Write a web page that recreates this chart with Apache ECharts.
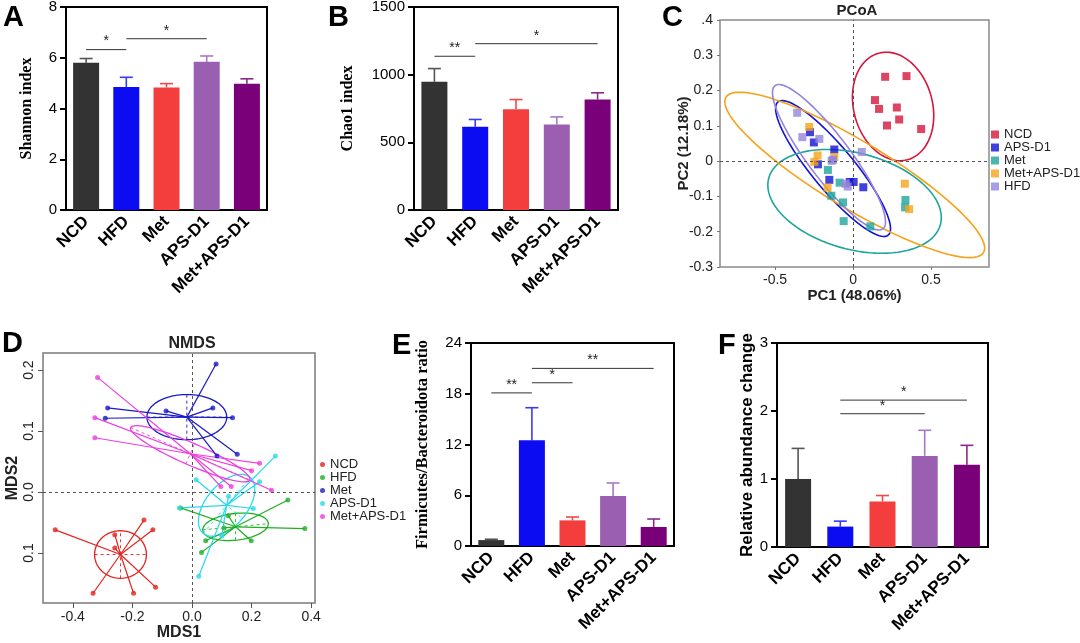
<!DOCTYPE html>
<html>
<head>
<meta charset="utf-8">
<title>Gut microbiota diversity</title>
<script src="https://cdn.jsdelivr.net/npm/echarts@6/dist/echarts.min.js"></script>
<style>
html,body{margin:0;padding:0;background:#fff;}
#main{width:1080px;height:643px;}
</style>
</head>
<body>
<div id="main"></div>
<script>
// ---- data ----
var groups = ['NCD', 'HFD', 'Met', 'APS-D1', 'Met+APS-D1'];

var shannonMean = [5.8, 4.85, 4.83, 5.84, 4.98];
var shannonSem = [0.17, 0.38, 0.15, 0.23, 0.19];
var shannonSig = [[0, 1, 6.32, '*'], [1, 3, 6.75, '*']];

var chao1Mean = [947, 615, 745, 632, 816];
var chao1Sem = [98, 54, 71, 56, 50];
var chao1Sig = [[0, 1, 1136, '**'], [1, 4, 1229, '*']];

var fbMean = [0.7, 12.5, 3.03, 5.91, 2.25];
var fbSem = [0.1, 3.85, 0.4, 1.54, 0.94];
var fbSig = [[0, 1, 18.1, '**'], [1, 2, 19.3, '*'], [1, 4, 21.0, '**']];

var relMean = [1.0, 0.3, 0.67, 1.34, 1.21];
var relSem = [0.45, 0.08, 0.087, 0.376, 0.285];
var relSig = [[1, 3, 1.96, '*'], [1, 4, 2.16, '*']];

// PCoA (PC1, PC2)
var pcoaGroups = ['NCD', 'APS-D1', 'Met', 'Met+APS-D1', 'HFD'];
var pcoaNCD = [[0.206,0.239],[0.343,0.241],[0.141,0.173],[0.167,0.148],[0.281,0.152],[0.218,0.101],[0.296,0.118],[0.437,0.091]];
var pcoaAPS = [[-0.276,0.082],[-0.251,0.053],[-0.225,-0.009],[-0.12,0.033],[-0.152,-0.053],[-0.021,-0.059],[0.004,-0.059],[0.066,-0.074]];
var pcoaMet = [[-0.161,-0.025],[-0.086,-0.061],[-0.139,-0.098],[-0.064,-0.117],[-0.06,-0.170],[0.111,-0.185],[0.336,-0.110],[0.334,-0.131]];
var pcoaMetAPS = [[-0.281,0.097],[-0.227,0.016],[-0.248,-0.002],[-0.12,0.012],[-0.163,-0.075],[0.332,-0.064],[0.36,-0.136]];
var pcoaHFD = [[-0.358,0.137],[-0.325,0.068],[-0.216,0.063],[-0.128,0.004],[-0.137,0.001],[0.056,0.026],[-0.047,-0.064],[-0.034,-0.072]];
// confidence ellipses: centre x, centre y, semi-axis u (x,y), semi-axis v (x,y)
var pcoaEllipses = [
  [0.257, 0.155, -0.092, 0.151, 0.244, 0.029],
  [-0.128, -0.021, 0.353, -0.189, 0.106, 0.037],
  [0.01, -0.114, 0.551, -0.065, 0.077, 0.132],
  [0.011, -0.039, 0.826, -0.220, 0.110, 0.081],
  [-0.154, 0.011, 0.346, -0.203, 0.108, 0.036]
];

// NMDS (MDS1, MDS2)
var nmdsGroups = ['NCD', 'HFD', 'Met', 'APS-D1', 'Met+APS-D1'];
var nmdsNCD = [[-0.459,-0.062],[-0.259,-0.070],[-0.259,-0.092],[-0.161,-0.046],[-0.131,-0.062],[-0.122,-0.156],[-0.196,-0.166],[-0.332,-0.166]];
var nmdsHFD = [[-0.038,-0.026],[0.322,-0.013],[0.379,-0.060],[0.199,-0.080],[0.122,-0.039],[0.108,-0.059],[0.046,-0.080],[0.032,-0.099]];
var nmdsMet = [[0.081,0.210],[-0.283,0.138],[-0.291,0.121],[-0.087,0.133],[0.07,0.138],[0.136,0.122],[0.084,0.059],[0.152,0.062]];
var nmdsAPS = [[0.28,0.059],[0.227,0.017],[0.014,0.02],[-0.042,-0.026],[0.123,-0.007],[0.206,-0.027],[0.1,-0.072],[0.023,-0.138]];
var nmdsMetAPS = [[-0.317,0.188],[-0.326,0.122],[-0.326,0.089],[0.227,0.047],[0.2,0.035],[0.267,0.003],[0.097,0.009],[0.132,0.009]];
// semi-axes u (x,y), v (x,y) around each group centroid
var nmdsEllipseAxes = [
  [0.087, 0, 0, 0.039],
  [0.110, 0.005, 0, 0.022],
  [0.134, 0, 0, 0.037],
  [0.0786, 0.0459, 0.0528, -0.0217],
  [0.2, -0.043, 0.0148, 0.0165]
];

// ---- styles ----
var barColors = ['#333333', '#0c0cf2', '#f43e3e', '#9b5fb1', '#7a0079'];
var errColors = ['#555555', '#3a3af0', '#f04848', '#a878c2', '#8a2a88'];
var pcoaColors = ['#d6163b', '#1212d8', '#1fa59b', '#f6a21a', '#9484dc'];
var nmdsColors = ['#e2231f', '#1faf25', '#1a1ac6', '#2ad9ea', '#ec3fe0'];
var SANS = 'Liberation Sans, Arial, sans-serif';
var SERIF = 'Liberation Serif, Times New Roman, serif';

var chart = echarts.init(document.getElementById('main'));

function barGrid(l, t, w, h) {
  return {left: l, top: t, width: w, height: h, show: true, borderColor: '#000', borderWidth: 2,
          backgroundColor: 'transparent', containLabel: false, outerBoundsMode: 'none'};
}

function barX(gi) {
  return {type: 'category', gridIndex: gi, data: groups,
    axisLine: {lineStyle: {color: '#000', width: 2}},
    axisTick: {alignWithLabel: true, length: 6, lineStyle: {color: '#000', width: 2}},
    axisLabel: {rotate: 45, interval: 0, margin: 9, fontSize: 17, fontWeight: 'bold', color: '#000', fontFamily: SANS}};
}

function barY(gi, max, interval, name, gap, font, nsize) {
  return {type: 'value', gridIndex: gi, min: 0, max: max, interval: interval,
    axisLine: {show: true, lineStyle: {color: '#000', width: 2}},
    axisTick: {show: true, length: 6, lineStyle: {color: '#000', width: 2}},
    splitLine: {show: false},
    axisLabel: {fontSize: 15, color: '#000', margin: 9, fontFamily: SANS,
                formatter: function (v) { return String(v); }},
    name: name, nameLocation: 'middle', nameGap: gap, nameRotate: 90, nameMoveOverlap: false,
    nameTextStyle: {fontFamily: font, fontWeight: 'bold', fontSize: nsize, color: '#000'}};
}

function barSeries(gi, mean, sem, sig) {
  return [
    {type: 'bar', xAxisIndex: gi, yAxisIndex: gi, barWidth: 26, z: 3,
     data: mean.map(function (v, i) { return {value: v, itemStyle: {color: barColors[i]}}; })},
    {type: 'custom', xAxisIndex: gi, yAxisIndex: gi, z: 2, silent: true,
     data: mean.map(function (v, i) { return [i, v, v + sem[i]]; }),
     renderItem: function (params, api) {
       var i = params.dataIndex;
       var lo = api.coord([api.value(0), api.value(1)]);
       var hi = api.coord([api.value(0), api.value(2)]);
       var s = {stroke: errColors[i], lineWidth: 1.6};
       return {type: 'group', children: [
         {type: 'line', shape: {x1: lo[0], y1: lo[1], x2: hi[0], y2: hi[1]}, style: s},
         {type: 'line', shape: {x1: hi[0] - 6.5, y1: hi[1], x2: hi[0] + 6.5, y2: hi[1]}, style: s}
       ]};
     }},
    {type: 'custom', xAxisIndex: gi, yAxisIndex: gi, z: 4, silent: true,
     data: sig.map(function (s) { return [s[0], s[1], s[2]]; }),
     renderItem: function (params, api) {
       var a = api.coord([api.value(0), api.value(2)]);
       var b = api.coord([api.value(1), api.value(2)]);
       return {type: 'group', children: [
         {type: 'line', shape: {x1: a[0], y1: a[1], x2: b[0], y2: b[1]}, style: {stroke: '#333', lineWidth: 1}},
         {type: 'text', x: (a[0] + b[0]) / 2, y: a[1] - 1,
          style: {text: sig[params.dataIndex][3], align: 'center', verticalAlign: 'bottom',
                  font: '14px ' + SANS, fill: '#222'}}
       ]};
     }}
  ];
}

function centroid(pts) {
  var sx = 0, sy = 0;
  pts.forEach(function (p) { sx += p[0]; sy += p[1]; });
  return [sx / pts.length, sy / pts.length];
}

function ellipseSeries(gi, ell, color, width) {
  return {type: 'custom', xAxisIndex: gi, yAxisIndex: gi, silent: true, clip: false, z: 2,
    data: [[ell[0], ell[1]]],
    renderItem: function (params, api) {
      var pts = [];
      for (var k = 0; k <= 90; k++) {
        var t = Math.PI * 2 * k / 90;
        pts.push(api.coord([ell[0] + ell[2] * Math.cos(t) + ell[4] * Math.sin(t),
                            ell[1] + ell[3] * Math.cos(t) + ell[5] * Math.sin(t)]));
      }
      return {type: 'polyline', shape: {points: pts}, style: {stroke: color, fill: null, lineWidth: width}};
    }};
}

var zeroLines = {silent: true, symbol: 'none', label: {show: false},
  lineStyle: {type: [3, 3], color: '#555', width: 1}, data: [{xAxis: 0}, {yAxis: 0}]};

var series = [];
series = series.concat(barSeries(0, shannonMean, shannonSem, shannonSig));
series = series.concat(barSeries(1, chao1Mean, chao1Sem, chao1Sig));
series = series.concat(barSeries(4, fbMean, fbSem, fbSig));
series = series.concat(barSeries(5, relMean, relSem, relSig));

// PCoA
var pcoaPts = [pcoaNCD, pcoaAPS, pcoaMet, pcoaMetAPS, pcoaHFD];
pcoaGroups.forEach(function (g, i) {
  series.push(ellipseSeries(2, pcoaEllipses[i], pcoaColors[i], 1.6));
});
pcoaGroups.forEach(function (g, i) {
  var s = {type: 'scatter', name: 'C-' + g, xAxisIndex: 2, yAxisIndex: 2, symbol: 'rect', symbolSize: 8,
           itemStyle: {color: pcoaColors[i]}, data: pcoaPts[i], z: 4};
  if (i === 0) s.markLine = zeroLines;
  series.push(s);
});

// NMDS
var nmdsPts = [nmdsNCD, nmdsHFD, nmdsMet, nmdsAPS, nmdsMetAPS];
nmdsGroups.forEach(function (g, i) {
  var c = centroid(nmdsPts[i]);
  var ax = nmdsEllipseAxes[i];
  var col = nmdsColors[i];
  series.push(ellipseSeries(3, [c[0], c[1], ax[0], ax[1], ax[2], ax[3]], col, 1.3));
  // dashed ellipse axes
  series.push({type: 'custom', xAxisIndex: 3, yAxisIndex: 3, silent: true, z: 2, data: [c],
    renderItem: function (params, api) {
      var st = {stroke: col, lineWidth: 0.9, lineDash: [3, 3]};
      var a1 = api.coord([c[0] - ax[0], c[1] - ax[1]]), a2 = api.coord([c[0] + ax[0], c[1] + ax[1]]);
      var b1 = api.coord([c[0] - ax[2], c[1] - ax[3]]), b2 = api.coord([c[0] + ax[2], c[1] + ax[3]]);
      return {type: 'group', children: [
        {type: 'line', shape: {x1: a1[0], y1: a1[1], x2: a2[0], y2: a2[1]}, style: st},
        {type: 'line', shape: {x1: b1[0], y1: b1[1], x2: b2[0], y2: b2[1]}, style: st}
      ]};
    }});
  // spider lines to centroid
  series.push({type: 'custom', xAxisIndex: 3, yAxisIndex: 3, silent: true, z: 3, data: nmdsPts[i],
    renderItem: function (params, api) {
      var p = api.coord([api.value(0), api.value(1)]);
      var o = api.coord(c);
      return {type: 'line', shape: {x1: o[0], y1: o[1], x2: p[0], y2: p[1]}, style: {stroke: col, lineWidth: 1.2}};
    }});
});
nmdsGroups.forEach(function (g, i) {
  var s = {type: 'scatter', name: 'D-' + g, xAxisIndex: 3, yAxisIndex: 3, symbol: 'circle', symbolSize: 5,
           itemStyle: {color: nmdsColors[i]}, data: nmdsPts[i], z: 4};
  if (i === 0) s.markLine = zeroLines;
  series.push(s);
});

function letter(t, l, top) {
  return {text: t, left: l, top: top, padding: 0,
          textStyle: {fontSize: 29, fontWeight: 'bold', color: '#000', fontFamily: SANS}};
}

var option = {
  animation: false,
  backgroundColor: '#fff',
  title: [
    letter('A', 3, 3), letter('B', 328, 3), letter('C', 662, 3),
    letter('D', 2, 329), letter('E', 392, 331), letter('F', 718, 331),
    {text: 'PCoA', left: 857, top: 3, textAlign: 'center', padding: 0,
     textStyle: {fontSize: 15, fontWeight: 'bold', color: '#222', fontFamily: SANS}},
    {text: 'NMDS', left: 192, top: 336, textAlign: 'center', padding: 0,
     textStyle: {fontSize: 16, fontWeight: 'bold', color: '#222', fontFamily: SANS}}
  ],
  legend: [
    {left: 991, top: 128, orient: 'vertical', icon: 'rect', itemWidth: 8, itemHeight: 8, itemGap: 0, padding: 0,
     data: pcoaGroups.map(function (g) { return 'C-' + g; }),
     formatter: function (n) { return n.slice(2); },
     textStyle: {fontSize: 13, lineHeight: 12, color: '#222', fontFamily: SANS}},
    {left: 320, top: 458, orient: 'vertical', icon: 'circle', itemWidth: 5, itemHeight: 5, itemGap: 0, padding: 0,
     data: nmdsGroups.map(function (g) { return 'D-' + g; }),
     formatter: function (n) { return n.slice(2); },
     textStyle: {fontSize: 13, lineHeight: 12.5, color: '#222', fontFamily: SANS}}
  ],
  grid: [
    barGrid(66, 7, 201, 203),
    barGrid(414, 7, 204, 203),
    {left: 720, top: 20, width: 269, height: 247, show: true, borderColor: '#8a8a8a', borderWidth: 1.5, outerBoundsMode: 'none'},
    {left: 43, top: 353, width: 272, height: 250, show: true, borderColor: '#7a7a7a', borderWidth: 1.5, outerBoundsMode: 'none'},
    barGrid(471, 343, 203, 203),
    barGrid(777, 343, 211, 204)
  ],
  xAxis: [
    barX(0), barX(1),
    {type: 'value', gridIndex: 2, min: -0.853, max: 0.872,
     axisLine: {show: false, onZero: false}, splitLine: {show: false},
     axisTick: {show: true, length: 3, customValues: [-0.5, 0, 0.5], lineStyle: {color: '#777'}},
     axisLabel: {customValues: [-0.5, 0, 0.5], fontSize: 14, color: '#222', margin: 6, fontFamily: SANS,
                 formatter: function (v) { return String(+v.toFixed(1)); }},
     name: 'PC1 (48.06%)', nameLocation: 'middle', nameGap: 21,
     nameTextStyle: {fontSize: 15, fontWeight: 'bold', color: '#222', fontFamily: SANS}},
    {type: 'value', gridIndex: 3, min: -0.5, max: 0.413,
     axisLine: {show: false, onZero: false}, splitLine: {show: false},
     axisTick: {show: true, length: 5, customValues: [-0.4, -0.2, 0, 0.2, 0.4], lineStyle: {color: '#555'}},
     axisLabel: {customValues: [-0.4, -0.2, 0, 0.2, 0.4], fontSize: 14, color: '#222', margin: 7, fontFamily: SANS,
                 formatter: function (v) { return v.toFixed(1); }},
     name: 'MDS1', nameLocation: 'middle', nameGap: 22,
     nameTextStyle: {fontSize: 16, fontWeight: 'bold', color: '#222', fontFamily: SANS}},
    barX(4), barX(5)
  ],
  yAxis: [
    barY(0, 8, 2, 'Shannon index', 31, SERIF, 16),
    barY(1, 1500, 500, 'Chao1 index', 58, SERIF, 16),
    {type: 'value', gridIndex: 2, min: -0.3, max: 0.4,
     axisLine: {show: false, onZero: false}, splitLine: {show: false},
     axisTick: {show: true, length: 3, customValues: [-0.3, -0.2, -0.1, 0, 0.1, 0.2, 0.3, 0.4], lineStyle: {color: '#777'}},
     axisLabel: {customValues: [-0.3, -0.2, -0.1, 0, 0.1, 0.2, 0.3, 0.4], fontSize: 14, color: '#222', margin: 7, fontFamily: SANS,
                 formatter: function (v) { return Math.abs(v - 0.4) < 1e-6 ? '.4' : String(+v.toFixed(1)); }},
     name: 'PC2 (12.18%)', nameLocation: 'middle', nameGap: 29, nameRotate: 90, nameMoveOverlap: false,
     nameTextStyle: {fontSize: 15, fontWeight: 'bold', color: '#222', fontFamily: SANS}},
    {type: 'value', gridIndex: 3, min: -0.182, max: 0.228,
     axisLine: {show: false, onZero: false}, splitLine: {show: false},
     axisTick: {show: true, length: 5, customValues: [-0.1, 0, 0.1, 0.2], lineStyle: {color: '#555'}},
     axisLabel: {customValues: [-0.1, 0, 0.1, 0.2], rotate: 90, fontSize: 14, color: '#222', margin: 7, fontFamily: SANS,
                 formatter: function (v) { return Math.abs(v).toFixed(1); }},
     name: 'MDS2', nameLocation: 'middle', nameGap: 22, nameRotate: 90, nameMoveOverlap: false,
     nameTextStyle: {fontSize: 16, fontWeight: 'bold', color: '#222', fontFamily: SANS}},
    barY(4, 24, 6, 'Firmicutes/Bacteroidota ratio', 40, SERIF, 16.5),
    barY(5, 3, 1, 'Relative abundance change', 21, SANS, 17)
  ],
  series: series
};

chart.setOption(option);
</script>
</body>
</html>
